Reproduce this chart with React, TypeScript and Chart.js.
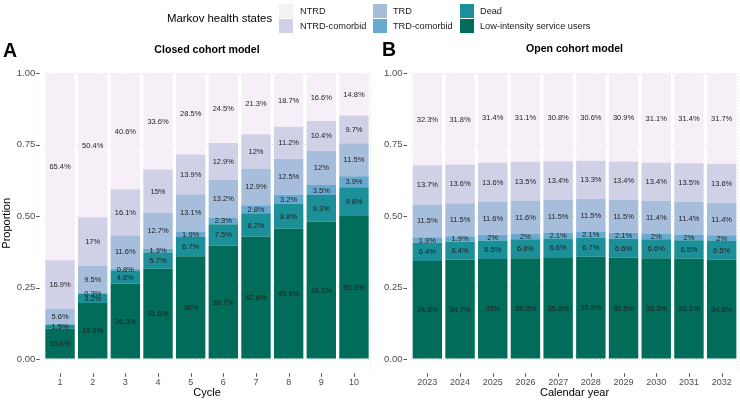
import React, { useEffect, useRef } from "react";
import { Chart, registerables } from "chart.js";

Chart.register(...registerables);

const FONT = '"Liberation Sans", Arial, Helvetica, sans-serif';

// Stack order: bottom to top
const SERIES_NAMES = ["Low-intensity service users", "Dead", "TRD-comorbid", "TRD", "NTRD-comorbid", "NTRD"];
const SERIES_COLORS = ["#016c59", "#1c9099", "#67a9cf", "#a6bddb", "#d0d1e6", "#f6eff7"];

// Legend layout order (column-wise)
const LEGEND_ORDER = ["NTRD", "NTRD-comorbid", "TRD", "TRD-comorbid", "Dead", "Low-intensity service users"];

// Closed cohort model (percent)
const closedCycles = ["1", "2", "3", "4", "5", "6", "7", "8", "9", "10"];
const closedLowIntensity = [10.6, 19.6, 26.3, 31.6, 36, 39.7, 42.8, 45.6, 48.1, 50.3];
const closedDead = [1.5, 3.2, 4.6, 5.7, 6.7, 7.5, 8.2, 8.8, 9.3, 9.8];
const closedTRDComorbid = [0, 0.3, 0.8, 1.3, 1.9, 2.3, 2.8, 3.2, 3.5, 3.9];
const closedTRD = [5.6, 9.5, 11.6, 12.7, 13.1, 13.2, 12.9, 12.5, 12, 11.5];
const closedNTRDComorbid = [16.9, 17, 16.1, 15, 13.9, 12.9, 12, 11.2, 10.4, 9.7];
const closedNTRD = [65.4, 50.4, 40.6, 33.6, 28.5, 24.5, 21.3, 18.7, 16.6, 14.8];

// Open cohort model (percent)
const openYears = ["2023", "2024", "2025", "2026", "2027", "2028", "2029", "2030", "2031", "2032"];
const openLowIntensity = [34.3, 34.7, 35, 35.3, 35.6, 35.8, 35.5, 35.3, 35.1, 34.8];
const openDead = [6.4, 6.4, 6.5, 6.6, 6.6, 6.7, 6.6, 6.6, 6.5, 6.5];
const openTRDComorbid = [1.9, 1.9, 2, 2, 2.1, 2.1, 2.1, 2, 2, 2];
const openTRD = [11.5, 11.5, 11.6, 11.6, 11.5, 11.5, 11.5, 11.4, 11.4, 11.4];
const openNTRDComorbid = [13.7, 13.6, 13.6, 13.5, 13.4, 13.3, 13.4, 13.4, 13.5, 13.6];
const openNTRD = [32.3, 31.8, 31.4, 31.1, 30.8, 30.6, 30.9, 31.1, 31.4, 31.7];

const yTicks = [0, 0.25, 0.5, 0.75, 1];

const closedSeries = [closedLowIntensity, closedDead, closedTRDComorbid, closedTRD, closedNTRDComorbid, closedNTRD];
const openSeries = [openLowIntensity, openDead, openTRDComorbid, openTRD, openNTRDComorbid, openNTRD];

type PanelProps = {
  labels: string[];
  series: number[][];
  xTitle: string;
  yTitle?: string;
  yAxisWidth: number;
  rightPad: number;
};

function Panel({ labels, series, xTitle, yTitle, yAxisWidth, rightPad }: PanelProps) {
  const ref = useRef<HTMLCanvasElement | null>(null);

  useEffect(() => {
    if (!ref.current) return;

    const segLabels = {
      id: "segLabels",
      afterDatasetsDraw(chart: any) {
        const ctx = chart.ctx;
        ctx.save();
        ctx.font = `7.5px ${FONT}`;
        ctx.fillStyle = "#1f1f1f";
        ctx.textAlign = "center";
        ctx.textBaseline = "middle";
        series.forEach((arr, di) => {
          const meta = chart.getDatasetMeta(di);
          meta.data.forEach((bar: any, i: number) => {
            const v = arr[i];
            if (!v) return;
            const p = bar.getProps(["x", "y", "base"], true);
            ctx.fillText(`${v}%`, p.x, (p.y + p.base) / 2 + 0.5);
          });
        });
        ctx.restore();
      },
    };

    const deco = {
      id: "deco",
      beforeDatasetsDraw(chart: any) {
        const { ctx, chartArea } = chart;
        ctx.save();
        ctx.strokeStyle = "#cfcfcf";
        ctx.lineWidth = 0.8;
        ctx.setLineDash([1, 2]);
        ctx.beginPath();
        ctx.moveTo(chartArea.right, chartArea.top);
        ctx.lineTo(chartArea.right, chartArea.bottom);
        ctx.stroke();
        ctx.restore();
      },
      afterDraw(chart: any) {
        const { ctx, chartArea, scales } = chart;
        ctx.save();
        ctx.strokeStyle = "#555";
        ctx.lineWidth = 1;
        ctx.beginPath();
        yTicks.forEach((v) => {
          const py = Math.round(scales.y.getPixelForValue(v)) + 0.5;
          ctx.moveTo(chartArea.left - 7.5, py);
          ctx.lineTo(chartArea.left - 4, py);
        });
        labels.forEach((_, i) => {
          const px = Math.round(scales.x.getPixelForValue(i)) + 0.5;
          ctx.moveTo(px, chartArea.bottom);
          ctx.lineTo(px, chartArea.bottom + 3.5);
        });
        ctx.stroke();
        ctx.font = `9px ${FONT}`;
        ctx.fillStyle = "#4d4d4d";
        ctx.textAlign = "center";
        ctx.textBaseline = "middle";
        labels.forEach((lab, i) => {
          const px = scales.x.getPixelForValue(i);
          ctx.fillText(lab, px, chartArea.bottom + 9.5);
        });
        ctx.restore();
      },
    };

    const chart = new Chart(ref.current, {
      type: "bar",
      data: {
        labels,
        datasets: series.map((arr, i) => ({
          label: SERIES_NAMES[i],
          data: arr.map((v) => v / 100),
          backgroundColor: SERIES_COLORS[i],
          borderWidth: 0,
          barPercentage: 0.9,
          categoryPercentage: 1.0,
        })),
      },
      options: {
        responsive: true,
        maintainAspectRatio: false,
        animation: false,
        layout: { padding: { top: 73.3, right: rightPad, bottom: 0, left: 0 } },
        plugins: {
          legend: { display: false },
          tooltip: { enabled: false },
          title: { display: false },
        },
        scales: {
          x: {
            stacked: true,
            grid: { display: false },
            border: { display: false },
            ticks: { display: false },
            title: {
              display: true,
              text: xTitle,
              font: { family: FONT, size: 11 },
              color: "#000",
              padding: { top: 0, bottom: 3 },
            },
            afterFit: (s: any) => {
              s.height = 29.7;
            },
          },
          y: {
            stacked: true,
            min: -0.05,
            max: 1,
            afterBuildTicks: (s: any) => {
              s.ticks = yTicks.map((v) => ({ value: v }));
            },
            grid: { color: "#cfcfcf", lineWidth: 0.8, drawTicks: false },
            border: { display: false, dash: [1, 2] },
            ticks: {
              callback: (v: any) => Number(v).toFixed(2),
              font: { family: FONT, size: 9.5 },
              color: "#4d4d4d",
              padding: 8.5,
            },
            title: {
              display: !!yTitle,
              text: yTitle || "",
              font: { family: FONT, size: 11 },
              color: "#000",
              padding: { top: 0, bottom: 0 },
            },
            afterFit: (s: any) => {
              s.width = yAxisWidth;
            },
          },
        },
      } as any,
      plugins: [deco, segLabels],
    });
    return () => chart.destroy();
  }, []);

  return <canvas ref={ref} />;
}

function Text({ children, left, top, size, bold, center, width }: any) {
  return (
    <div
      style={{
        position: "absolute",
        left,
        top,
        width,
        fontSize: size,
        lineHeight: 1,
        fontWeight: bold ? "bold" : "normal",
        whiteSpace: "nowrap",
        textAlign: center ? "center" : "left",
        color: "#000",
        fontFamily: FONT,
      }}
    >
      {children}
    </div>
  );
}

export default function App() {
  const keyCols = [279, 373, 460];
  const textCols = [300, 393, 480];
  const keyRows = [3.5, 19];
  const textRows = [6.6, 21.6];
  return (
    <div
      style={{
        position: "fixed",
        left: 0,
        top: 0,
        width: 740,
        height: 403,
        background: "#fff",
        overflow: "hidden",
        fontFamily: FONT,
      }}
    >
      <div style={{ position: "absolute", left: 0, top: 0, width: 372, height: 403 }}>
        <Panel labels={closedCycles} series={closedSeries} xTitle="Cycle" yTitle="Proportion" yAxisWidth={43.7} rightPad={1.7} />
      </div>
      <div style={{ position: "absolute", left: 372, top: 0, width: 368, height: 403 }}>
        <Panel labels={openYears} series={openSeries} xTitle="Calendar year" yAxisWidth={39} rightPad={2} />
      </div>

      <Text left={167} top={13} size={11.4}>Markov health states</Text>
      {LEGEND_ORDER.map((name, i) => {
        const col = Math.floor(i / 2);
        const row = i % 2;
        const color = SERIES_COLORS[SERIES_NAMES.indexOf(name)];
        return (
          <React.Fragment key={name}>
            <div
              style={{
                position: "absolute",
                left: keyCols[col],
                top: keyRows[row],
                width: 14,
                height: 14,
                background: color,
              }}
            />
            <Text left={textCols[col]} top={textRows[row]} size={9.2}>
              <span style={{ color: "#1a1a1a" }}>{name}</span>
            </Text>
          </React.Fragment>
        );
      })}

      <Text left={3} top={40.8} size={19.5} bold>A</Text>
      <Text left={382} top={40.2} size={19.5} bold>B</Text>
      <Text left={57} width={300} top={43.8} size={10.6} bold center>Closed cohort model</Text>
      <Text left={424.5} width={300} top={43.3} size={10.6} bold center>Open cohort model</Text>
    </div>
  );
}
